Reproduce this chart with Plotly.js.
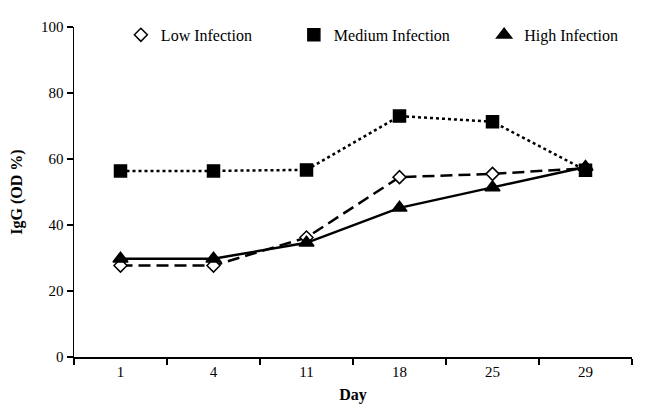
<!DOCTYPE html>
<html><head><meta charset="utf-8">
<script src="https://cdn.plot.ly/plotly-3.0.1.min.js"></script>
<style>html,body{margin:0;padding:0;background:#fff}</style>
</head><body>
<div id="chart" style="width:645px;height:411px"></div>
<script>
const days = ["1","4","11","18","25","29"];
const lowInfection = [27.7, 27.7, 36.2, 54.5, 55.5, 57.2];
const mediumInfection = [56.4, 56.4, 56.7, 73.0, 71.3, 56.6];
const highInfection = [29.8, 29.8, 34.6, 45.2, 51.4, 57.6];
const seriesNames = ["Low Infection", "Medium Infection", "High Infection"];

const seriesData = [lowInfection, mediumInfection, highInfection];
const dashes = ["12px,6px", "dot", "solid"];
const symbols = ["diamond", "square", "triangle-up"];
const sizes = [10, 12, 13];
const fills = ["#fff", "#000", "#000"];
const legendIds = ["legend", "legend2", "legend3"];
const legendX = [0.084, 0.394, 0.735];

const traces = [];
seriesData.forEach((vals, i) => {
  traces.push({
    x: days, y: vals, type: "scatter", mode: "lines", showlegend: false,
    line: {color: "#000", width: 2.5, dash: dashes[i]}, hoverinfo: "skip"
  });
});
seriesData.forEach((vals, i) => {
  traces.push({
    x: days, y: vals, type: "scatter", mode: "markers", name: seriesNames[i],
    legend: legendIds[i],
    marker: {symbol: symbols[i], size: sizes[i], color: fills[i], line: {color: "#000", width: 1.5}}
  });
});

const serif = "Liberation Serif, Times New Roman, serif";
const font = {family: serif, size: 15, color: "#000"};
const legendFont = {family: serif, size: 16, color: "#000"};
const titleFont = {family: serif, size: 16, color: "#000"};
const layout = {
  width: 645, height: 411,
  margin: {l: 74, r: 13, t: 27, b: 54},
  paper_bgcolor: "#fff", plot_bgcolor: "#fff",
  font: font,
  showlegend: true,
  xaxis: {
    type: "category", tickson: "boundaries", ticks: "outside", ticklen: 6, tickwidth: 1.5, tickcolor: "#000",
    showline: true, linecolor: "#000", linewidth: 1.5, showgrid: false, zeroline: false,
    range: [-0.5, 5.5], tickfont: font,
    title: {text: "<b>Day</b>", font: titleFont, standoff: 10}
  },
  yaxis: {
    range: [0, 100], dtick: 20, ticks: "outside", ticklen: 6, tickwidth: 1.5, tickcolor: "#000",
    showline: true, linecolor: "#000", linewidth: 1.5, showgrid: false, zeroline: false,
    tickfont: font,
    title: {text: "<b>IgG (OD %)</b>", font: titleFont, standoff: 14}
  }
};
legendIds.forEach((id, i) => {
  layout[id] = {orientation: "h", x: legendX[i], y: 0.976, xanchor: "left", yanchor: "middle",
                font: legendFont, bgcolor: "rgba(0,0,0,0)"};
});
Plotly.newPlot("chart", traces, layout, {displayModeBar: false, staticPlot: true});
</script>
</body></html>
